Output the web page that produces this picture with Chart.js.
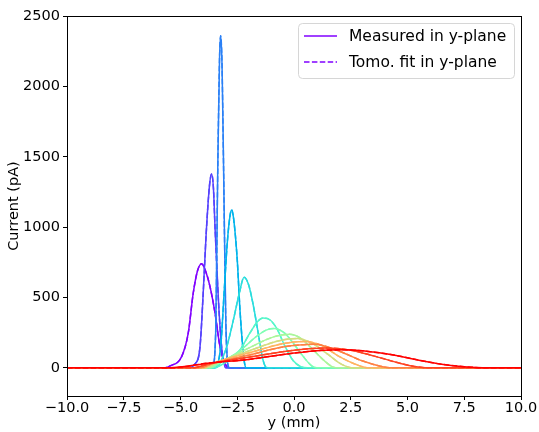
<!DOCTYPE html>
<html>
<head>
<meta charset="utf-8">
<script src="https://cdn.jsdelivr.net/npm/chart.js@4.4.1/dist/chart.umd.min.js"></script>
<style>
html,body{margin:0;padding:0;background:#fff;}
#wrap{position:relative;width:539px;height:432px;}
</style>
</head>
<body>
<div id="wrap"><canvas id="c" width="539" height="432"></canvas></div>
<script>
// ---- data (y in mm, current in pA) ----
const xTicks = [-10, -7.5, -5, -2.5, 0, 2.5, 5, 7.5, 10];
const yTicks = [0, 500, 1000, 1500, 2000, 2500];
const legendLabels = ["Measured in y-plane", "Tomo. fit in y-plane"];
const seriesColors = ["#8000ff","#5542fd","#2a80f6","#00b4eb","#2adddd","#55f6ca","#80ffb4","#aaf69b","#d4dd80","#ffb462","#ff8042","#ff4221","#ff0000"];

const p1_y = [-10, -5.7, -5.46, -4.95, -4.66, -4.44, -4.25, -4.07, -3.9, -3.7, -3.48, -3.26, -2.96, -2.8, 10];
const p1_i = [0, 0, 14, 80, 246, 530, 690, 740, 690, 577, 390, 151, 10, 0, 0];
const p2_y = [-10, -4.7, -4.36, -4.14, -4.0, -3.87, -3.72, -3.63, -3.55, -3.48, -3.33, -3.19, -3.0, 10];
const p2_i = [0, 0, 28, 151, 530, 950, 1300, 1378, 1280, 1003, 483, 151, 0, 0];
const p3_y = [-10, -3.6, -3.45, -3.36, -3.28, -3.23, -3.17, -3.1, -3.0, -2.85, 10];
const p3_i = [0, 0, 250, 1400, 2200, 2360, 2150, 1400, 300, 0, 0];
const p4_y = [-10, -3.5, -3.23, -3.08, -2.94, -2.82, -2.75, -2.66, -2.5, -2.38, -2.2, -2.1, 10];
const p4_i = [0, 0, 151, 530, 888, 1080, 1122, 1060, 767, 412, 57, 0, 0];
const p5_y = [-10, -3.45, -3.26, -2.96, -2.67, -2.41, -2.2, -2.0, -1.8, -1.57, -1.4, -1.28, -1.15, 10];
const p5_i = [0, 0, 35, 151, 341, 530, 644, 590, 450, 240, 80, 15, 0, 0];
const p6_y = [-10, -3.6, -2.96, -2.38, -1.94, -1.6, -1.37, -1.05, -0.76, -0.4, -0.03, 0.3, 0.6, 10];
const p6_i = [0, 0, 45, 128, 248, 330, 354, 340, 280, 155, 50, 8, 0, 0];
const p7_y = [-10, -3.7, -3.3, -2.4, -1.6, -1.2, -0.88, -0.4, -0.03, 0.41, 0.78, 1.0, 10];
const p7_i = [0, 0, 30, 120, 230, 270, 280, 245, 175, 80, 14, 0, 0];
const p8_y = [-10, -3.8, -3.4, -2.0, -0.9, -0.2, 0.3, 0.7, 1.29, 1.73, 2.0, 10];
const p8_i = [0, 0, 30, 140, 220, 238, 210, 151, 57, 5, 0, 0];
const p9_y = [-10, -3.9, -3.5, -2.0, -0.6, 0.15, 0.8, 1.5, 2.1, 2.6, 10];
const p9_i = [0, 0, 30, 120, 195, 208, 175, 95, 25, 0, 0];
const p10_y = [-10, -4.0, -3.6, -2.0, -0.5, 0.45, 1.2, 2.0, 2.8, 3.3, 10];
const p10_i = [0, 0, 30, 105, 172, 188, 160, 80, 20, 0, 0];
const p11_y = [-10, -4.2, -3.6, -2.0, -0.5, 0.9, 2.0, 3.0, 3.8, 4.3, 10];
const p11_i = [0, 0, 30, 90, 148, 168, 118, 50, 12, 0, 0];
const p12_y = [-10, -4.5, -3.7, -2.0, 0.0, 1.4, 2.5, 3.5, 4.5, 5.3, 5.9, 10];
const p12_i = [0, 0, 30, 75, 125, 141, 125, 85, 40, 10, 0, 0];
const p13_y = [-10, -5.5, -3.7, -2.0, 0.0, 1.0, 2.3, 3.5, 4.5, 5.5, 6.5, 7.5, 8.5, 10];
const p13_i = [0, 0, 35, 60, 105, 122, 128, 112, 88, 54, 26, 8, 0, 0];

const profilesY = [p1_y,p2_y,p3_y,p4_y,p5_y,p6_y,p7_y,p8_y,p9_y,p10_y,p11_y,p12_y,p13_y];
const profilesI = [p1_i,p2_i,p3_i,p4_i,p5_i,p6_i,p7_i,p8_i,p9_i,p10_i,p11_i,p12_i,p13_i];

const FONT = "'DejaVu Sans', sans-serif";
const datasets = [];
profilesY.forEach((ys, k) => {
  const pts = ys.map((v, j) => ({x: v, y: profilesI[k][j]}));
  datasets.push({
    label: legendLabels[0], data: pts, borderColor: seriesColors[k],
    borderWidth: 1.5, pointRadius: 0, cubicInterpolationMode: 'monotone',
    fill: false, order: 1000 - 2 * k
  });
  datasets.push({
    label: legendLabels[1], data: pts.map(p => ({x: p.x, y: p.y})), borderColor: seriesColors[k],
    borderWidth: 1.5, borderDash: [5.5, 2.4], pointRadius: 0, cubicInterpolationMode: 'monotone',
    fill: false, order: 999 - 2 * k
  });
});

const framePlugin = {
  id: 'frame',
  afterDraw(chart) {
    const ctx = chart.ctx, a = chart.chartArea;
    ctx.save();
    ctx.strokeStyle = '#000';
    ctx.lineWidth = 1;
    ctx.strokeRect(Math.round(a.left) + 0.5, Math.round(a.top) + 0.5,
                   Math.round(a.right - a.left), Math.round(a.bottom - a.top));
    // legend box inside the axes, upper right
    const bx = 298.5, by = 23.5, bw = 216, bh = 55, r = 4;
    ctx.fillStyle = 'rgba(255,255,255,0.8)';
    ctx.strokeStyle = '#d6d6d6';
    ctx.beginPath();
    ctx.moveTo(bx + r, by);
    ctx.lineTo(bx + bw - r, by); ctx.quadraticCurveTo(bx + bw, by, bx + bw, by + r);
    ctx.lineTo(bx + bw, by + bh - r); ctx.quadraticCurveTo(bx + bw, by + bh, bx + bw - r, by + bh);
    ctx.lineTo(bx + r, by + bh); ctx.quadraticCurveTo(bx, by + bh, bx, by + bh - r);
    ctx.lineTo(bx, by + r); ctx.quadraticCurveTo(bx, by, bx + r, by);
    ctx.closePath(); ctx.fill(); ctx.stroke();
    const rows = [36, 62];
    ctx.lineWidth = 1.5;
    ctx.strokeStyle = seriesColors[0];
    rows.forEach((yy, i) => {
      ctx.setLineDash(i === 0 ? [] : [5.5, 2.4]);
      ctx.beginPath(); ctx.moveTo(304, yy); ctx.lineTo(337, yy); ctx.stroke();
    });
    ctx.setLineDash([]);
    ctx.fillStyle = '#000';
    ctx.font = '15.5px ' + FONT;
    ctx.textBaseline = 'middle';
    ctx.textAlign = 'left';
    rows.forEach((yy, i) => ctx.fillText(legendLabels[i], 349, yy + 1));
    ctx.restore();
  }
};

const fmt = v => (v < 0 ? '\u2212' : '') + Math.abs(v);
new Chart(document.getElementById('c'), {
  type: 'line',
  data: {datasets},
  options: {
    responsive: false, animation: false, events: [],
    layout: {padding: {left: 0, top: 16, right: 18, bottom: 0}},
    plugins: {legend: {display: false}, tooltip: {enabled: false}},
    scales: {
      x: {
        type: 'linear', min: -10, max: 10,
        afterBuildTicks: s => { s.ticks = xTicks.map(v => ({value: v})); },
        afterFit: s => { s.height = 36; },
        grid: {display: true, drawOnChartArea: false, drawTicks: true, tickLength: 4, tickColor: '#000', color: '#000'},
        border: {display: false},
        ticks: {color: '#000', font: {family: FONT, size: 14.5}, padding: 0, maxRotation: 0, autoSkip: false,
                callback: v => (v < 0 ? '\u2212' : '') + Math.abs(v).toFixed(1)},
        title: {display: true, text: 'y (mm)', color: '#000', font: {family: FONT, size: 14.5}, padding: {top: 0, bottom: 0}}
      },
      y: {
        type: 'linear', min: -200, max: 2500,
        afterBuildTicks: s => { s.ticks = yTicks.map(v => ({value: v})); },
        afterFit: s => { s.width = 67; },
        grid: {display: true, drawOnChartArea: false, drawTicks: true, tickLength: 4, tickColor: '#000', color: '#000'},
        border: {display: false},
        ticks: {color: '#000', font: {family: FONT, size: 14.5}, padding: 3, autoSkip: false, callback: v => fmt(v)},
        title: {display: true, text: 'Current (pA)', color: '#000', font: {family: FONT, size: 14.5}, padding: {top: 6, bottom: 2}}
      }
    }
  },
  plugins: [framePlugin]
});
</script>
</body>
</html>
